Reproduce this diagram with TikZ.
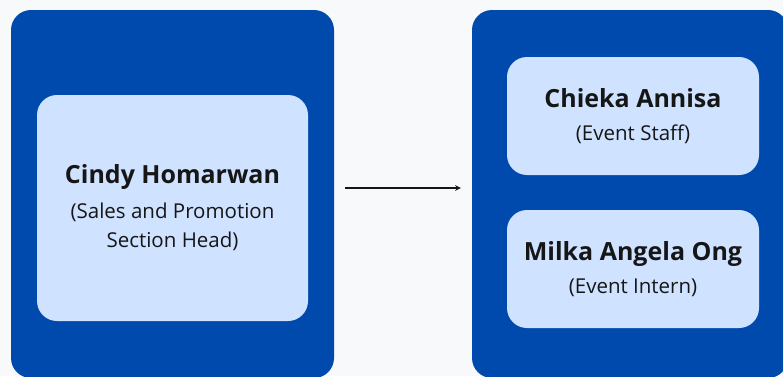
\documentclass[tikz,border=0pt]{standalone}
\usepackage{fontspec}
\setmainfont{Open Sans}
\definecolor{pagebg}{HTML}{F8F9FB}
\definecolor{teamblue}{HTML}{004AAD}
\definecolor{cardblue}{HTML}{CFE2FF}
\definecolor{inkgray}{HTML}{161616}
\tikzset{
	outerbox/.style={fill=teamblue,rounded corners=20pt,inner sep=0pt},
	card/.style={fill=cardblue,rounded corners=20pt,align=center,text=inkgray,
		font=\fontsize{20.5}{29.5}\selectfont,inner sep=0pt},
}
\newcommand{\pname}[1]{{\fontsize{25}{29}\selectfont\bfseries #1}}
\begin{document}
\begin{tikzpicture}[x=1pt,y=-1pt,line join=round,>=stealth]
	\useasboundingbox (0,0) rectangle (783,376);
	\clip (0,0) rectangle (783,376);
	\fill[pagebg] (0,0) rectangle (783,376);
	% groups
	\node[outerbox,minimum width=323pt,minimum height=368pt] (head) at (172.5,194) {};
	\node[outerbox,minimum width=316pt,minimum height=368pt] (team) at (630,194) {};
	% people
	\node[card,minimum width=271pt,minimum height=226pt] (cindy) at (172.5,208)
		{\pname{Cindy Homarwan}\\[5pt](Sales and Promotion\\Section Head)};
	\node[card,minimum width=252pt,minimum height=118pt] (chieka) at (633,116)
		{\pname{Chieka Annisa}\\[4pt](Event Staff)};
	\node[card,minimum width=252pt,minimum height=118pt] (milka) at (633,269)
		{\pname{Milka Angela Ong}\\[4pt](Event Intern)};
	\draw[->,line width=1.5pt,color=inkgray,shorten <=11pt,shorten >=11pt]
		([yshift=6pt]head.east)--([yshift=6pt]team.west);
\end{tikzpicture}
\end{document}
